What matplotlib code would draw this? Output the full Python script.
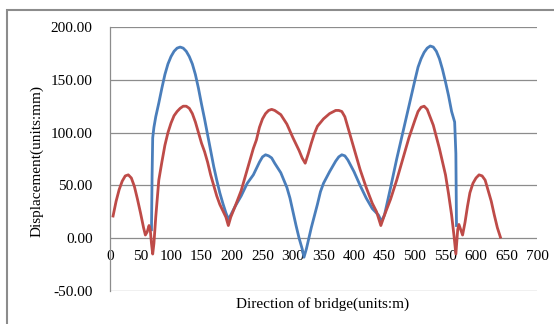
import matplotlib
matplotlib.use("Agg")
import matplotlib.pyplot as plt
from matplotlib.patches import Rectangle

plt.rcParams['font.family'] = ['Liberation Serif', 'DejaVu Serif']
plt.rcParams['axes.unicode_minus'] = False

red_x = [5, 10, 15, 20, 25, 30, 35, 40, 45, 50, 55, 58, 61, 64, 66, 68, 70, 72, 75, 80, 85, 90, 95, 100,
         105, 110, 115, 120, 125, 130, 135, 140, 145, 150, 155, 160, 165, 170, 175, 180, 185, 190, 194,
         198, 205, 215, 225, 235, 240, 245, 250, 255, 260, 265, 270, 280, 290, 300, 310, 315, 320, 325,
         330, 335, 340, 350, 360, 370, 375, 380, 385, 390, 395, 400, 410, 420, 430, 437, 444, 450, 460,
         470, 480, 490, 500, 505, 510, 515, 520, 530, 540, 550, 555, 560, 564, 567, 570, 572, 575, 578,
         582, 586, 590, 595, 600, 605, 610, 615, 620, 625, 630, 635, 640]
red_y = [21, 35, 46, 54, 59, 60, 57, 49, 37, 24, 10, 3, 6, 12, 8, -5, -15, -5, 20, 55, 72, 88, 100, 109,
         116, 120, 123, 125, 125, 123, 118, 110, 100, 90, 82, 72, 60, 50, 40, 32, 26, 20, 12,
         20, 30, 45, 65, 85, 93, 105, 113, 118, 121, 122, 121, 117, 108, 95, 83, 76, 71, 80,
         90, 99, 106, 113, 118, 121, 121, 120, 115, 105, 95, 85, 65, 48, 33, 25, 12, 22, 37,
         55, 75, 95, 112, 120, 124, 125, 122, 107, 85, 60, 42, 22, 2, -15, 8, 13, 8, 3,
         15, 30, 43, 52, 57, 60, 59, 55, 45, 35, 22, 10, 1]

blue_x = [68, 69, 70, 72, 75, 80, 85, 90, 95, 100, 105, 110, 115, 120, 125, 130, 135, 140, 145, 150,
          155, 160, 165, 170, 175, 180, 185, 190, 194, 198, 205, 215, 225, 230, 235, 240, 245, 250,
          255, 260, 265, 270, 280, 290, 295, 300, 305, 310, 315, 318, 322, 330, 340, 345, 350, 360,
          370, 375, 380, 385, 390, 400, 410, 420, 430, 440, 445, 450, 460, 470, 480, 490, 500, 505,
          510, 515, 520, 525, 530, 535, 540, 545, 550, 555, 560, 565, 567, 568]
blue_y = [8, 60, 95, 105, 115, 128, 142, 155, 165, 172, 177, 180, 181, 180, 177, 172, 165, 155, 142, 127,
          113, 98, 83, 68, 55, 43, 33, 24, 18, 22, 30, 40, 52, 56, 60, 66, 72, 77,
          79, 78, 76, 71, 62, 48, 38, 25, 12, 0, -10, -18, -10, 10, 32, 44, 52, 63,
          73, 77, 79, 78, 74, 63, 50, 38, 28, 22, 16, 22, 48, 75, 100, 125, 150, 162,
          170, 176, 180, 182, 181, 177, 170, 160, 148, 135, 120, 110, 80, 12]

x_ticks = [0, 50, 100, 150, 200, 250, 300, 350, 400, 450, 500, 550, 600, 650, 700]
y_ticks = [-50, 0, 50, 100, 150, 200]

W, H = 554, 324
fig = plt.figure(figsize=(W / 100, H / 100), dpi=100)
fig.patches.append(Rectangle((7 / W, -0.1), 1.2, 1 - 10 / H + 0.1, transform=fig.transFigure,
                             fill=False, edgecolor='#8c8c8c', linewidth=1.5))

ax = fig.add_axes([110 / W, 1 - 291 / H, (537 - 110) / W, (291 - 27) / H])
ax.set_xlim(0, 700)
ax.set_ylim(-50, 200)
ax.set_yticks(y_ticks)
ax.set_yticklabels(['%.2f' % v for v in y_ticks])
ax.set_xticks(x_ticks)
ax.set_xticklabels([str(v) for v in x_ticks])
ax.grid(axis='y', color='#8c8c8c', linewidth=0.9)
ax.set_axisbelow(True)
for s in ['top', 'right', 'bottom']:
    ax.spines[s].set_visible(False)
ax.spines['left'].set_color('#8c8c8c')
ax.spines['left'].set_linewidth(0.9)
ax.spines['bottom'].set_position(('data', 0))
ax.tick_params(axis='both', length=0, labelsize=11, colors='black')
ax.tick_params(axis='y', pad=12.5)
ax.tick_params(axis='x', pad=8.5)

ax.plot(blue_x, blue_y, color='#4a7ebb', linewidth=2.0, solid_joinstyle='round')
ax.plot(red_x, red_y, color='#be4b48', linewidth=2.0, solid_joinstyle='round')

fig.text(323 / W, 1 - 304 / H, 'Direction of bridge(units:m)', ha='center', va='center', fontsize=11)
fig.text(37 / W, 1 - 161 / H, 'Displacement(units:mm)', ha='center', va='center', rotation=90, fontsize=11)

fig.savefig('out.png', dpi=100)
